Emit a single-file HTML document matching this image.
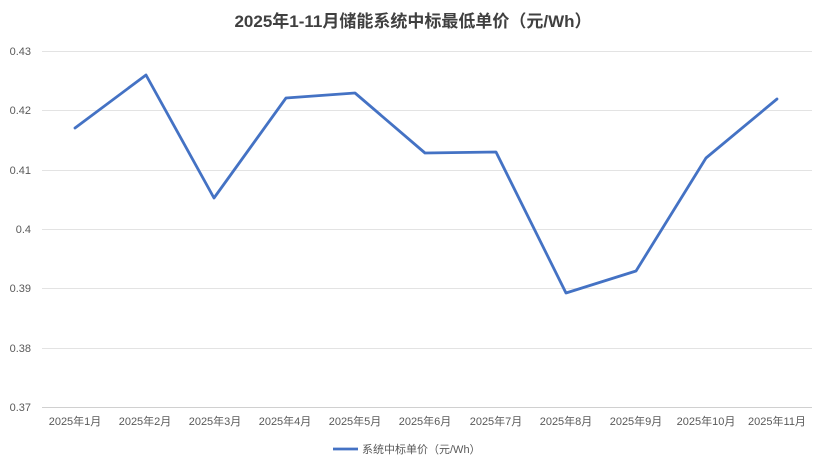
<!DOCTYPE html>
<html><head><meta charset="utf-8"><style>
body{margin:0;background:#fff;}
svg{display:block;font-family:"Liberation Sans","Noto Sans CJK SC",sans-serif;}
</style></head><body>
<svg width="827" height="469" viewBox="0 0 827 469">
<rect width="827" height="469" fill="#fff"/>
<text x="413" y="27" text-anchor="middle" font-size="17" font-weight="bold" fill="#404040">2025年1-11月储能系统中标最低单价（元/Wh）</text>
<g stroke="#e3e3e3" stroke-width="1">
<line x1="42" x2="812" y1="51.5" y2="51.5"/>
<line x1="42" x2="812" y1="110.5" y2="110.5"/>
<line x1="42" x2="812" y1="170.5" y2="170.5"/>
<line x1="42" x2="812" y1="229.5" y2="229.5"/>
<line x1="42" x2="812" y1="288.5" y2="288.5"/>
<line x1="42" x2="812" y1="348.5" y2="348.5"/>
</g>
<line x1="42" x2="812" y1="407.5" y2="407.5" stroke="#d0d0d0"/>
<g font-size="11" fill="#595959" text-anchor="end">
<text x="31" y="55">0.43</text>
<text x="31" y="114">0.42</text>
<text x="31" y="174">0.41</text>
<text x="31" y="233">0.4</text>
<text x="31" y="292">0.39</text>
<text x="31" y="352">0.38</text>
<text x="31" y="411">0.37</text>
</g>
<g font-size="11" fill="#595959" text-anchor="middle">
<text x="75" y="425">2025年1月</text>
<text x="145" y="425">2025年2月</text>
<text x="215" y="425">2025年3月</text>
<text x="285" y="425">2025年4月</text>
<text x="355" y="425">2025年5月</text>
<text x="425" y="425">2025年6月</text>
<text x="496" y="425">2025年7月</text>
<text x="566" y="425">2025年8月</text>
<text x="636" y="425">2025年9月</text>
<text x="706" y="425">2025年10月</text>
<text x="777" y="425">2025年11月</text>
</g>
<polyline fill="none" stroke="#4472c4" stroke-width="2.8" stroke-linejoin="round" stroke-linecap="round"
points="75,128 146,75 214,198 286,98 355,93 425,153 496,152 566,293 636,271 706,158 777,99"/>
<line x1="333" x2="358" y1="449" y2="449" stroke="#4472c4" stroke-width="2.8"/>
<text x="362" y="453" font-size="11" fill="#595959">系统中标单价（元/Wh）</text>
</svg>
</body></html>
